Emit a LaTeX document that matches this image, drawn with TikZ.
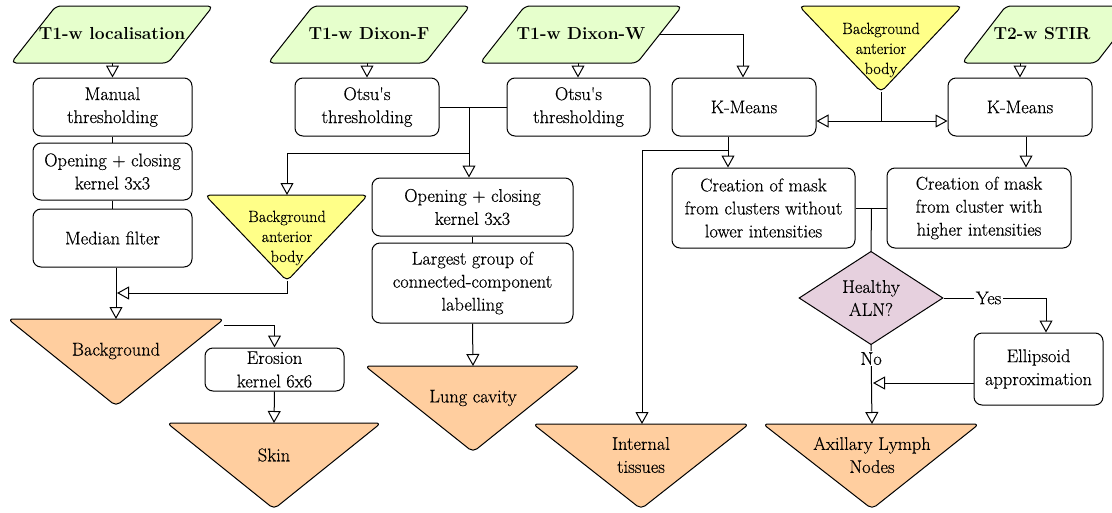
\documentclass[tikz,border=0pt]{standalone}
\usepackage{fontspec}
\setmainfont{Latin Modern Roman}[UprightFeatures={FakeBold=0.4}]
\usetikzlibrary{arrows.meta,shapes.geometric}
\definecolor{inpgreen}{HTML}{E6FFCC}
\definecolor{ylw}{HTML}{FFFF88}
\definecolor{orng}{HTML}{FFCE9F}
\definecolor{purp}{HTML}{E6D0DE}
\begin{document}
\begin{tikzpicture}[x=1pt,y=-1pt,
  every node/.style={font=\fontsize{18.4}{23}\selectfont},
  proc/.style={draw, rounded corners=8, line width=1, fill=white, align=center, inner sep=0},
  lbl/.style={align=center, inner sep=0},
  ttl/.style={align=center, inner sep=0, font=\fontsize{17.4}{23}\selectfont\bfseries},
  smalllbl/.style={align=center, inner sep=0, font=\fontsize{16.2}{20}\selectfont},
  shp/.style={draw, line width=1, rounded corners=5},
  arr/.style={line width=1, -{Triangle[open, width=13, length=12]}},
  ln/.style={line width=1},
  tag/.style={fill=white, inner sep=1.5}]
\useasboundingbox (0,0) rectangle (1112,512);
\begin{scope}
\clip (0,0) rectangle (1112,512);
% input parallelograms
\path[shp, fill=inpgreen] (11,63) -- (56,6) -- (213,6) -- (168,63) -- cycle;
\path[shp, fill=inpgreen] (268,63) -- (313,6) -- (470,6) -- (425,63) -- cycle;
\path[shp, fill=inpgreen] (480,63) -- (525,6) -- (682,6) -- (637,63) -- cycle;
\path[shp, fill=inpgreen] (962,63) -- (1006,6) -- (1140,6) -- (1096,63) -- cycle;
\end{scope}
\node[ttl] (loc) at (112,34) {T1-w localisation};
\node[ttl] (dixF) at (369,34) {T1-w Dixon-F};
\node[ttl] (dixW) at (581,34) {T1-w Dixon-W};
\node[ttl] (stir) at (1042,34) {T2-w STIR};
\coordinate (locB) at (112.5,63);
\coordinate (dixFB) at (367,63);
\coordinate (dixWB) at (578,63);
\coordinate (dixWR) at (659,34);
\coordinate (stirB) at (1020,63);

% yellow triangles
\path[shp, fill=ylw] (205,195) -- (368,195) -- (287,281) -- cycle;
\node[smalllbl] (bgL) at (287,238) {Background\\anterior\\body};
\coordinate (bgLtop) at (287,195);
\coordinate (bgLbot) at (287,281);
\path[shp, fill=ylw] (799,6) -- (962,6) -- (881,92) -- cycle;
\node[smalllbl] (bgR) at (881,50) {Background\\anterior\\body};
\coordinate (bgRbot) at (881,92);

% orange output triangles
\path[shp, fill=orng] (8,319) -- (224,319) -- (116,406) -- cycle;
\node[lbl] (bg) at (116,351) {Background};
\coordinate (bgtop) at (116,319);
\coordinate (bgright) at (224,325);
\path[shp, fill=orng] (167,423) -- (381,423) -- (274,509) -- cycle;
\node[lbl] (skin) at (274,455) {Skin};
\coordinate (skintop) at (274,423);
\path[shp, fill=orng] (365,366) -- (580,366) -- (473,452) -- cycle;
\node[lbl] (lung) at (473,398) {Lung cavity};
\coordinate (lungtop) at (473,366);
\path[shp, fill=orng] (533,424) -- (749,424) -- (641,509) -- cycle;
\node[lbl] (intl) at (641,455) {Internal\\tissues};
\coordinate (intltop) at (641,424);
\path[shp, fill=orng] (763,424) -- (979,424) -- (872,509) -- cycle;
\node[lbl] (axil) at (872,455) {Axillary Lymph\\Nodes};
\coordinate (axiltop) at (872,424);

% process boxes
\node[proc, minimum width=159, minimum height=58] (manual) at (112.5,107) {Manual\\thresholding};
\node[proc, minimum width=159, minimum height=57] (open1) at (112.5,171.5) {Opening + closing\\kernel 3x3};
\node[proc, minimum width=159, minimum height=58] (median) at (112.5,238) {Median filter};
\node[proc, minimum width=144, minimum height=58] (otsuF) at (367,107) {Otsu\textquotesingle s\\thresholding};
\node[proc, minimum width=143, minimum height=58] (otsuW) at (578.5,107) {Otsu\textquotesingle s\\thresholding};
\node[proc, minimum width=201, minimum height=58] (open2) at (472.5,207) {Opening + closing\\kernel 3x3};
\node[proc, minimum width=201, minimum height=80] (largest) at (472.5,283) {Largest group of\\connected-component\\labelling};
\node[proc, minimum width=139, minimum height=43, font=\fontsize{18.4}{23.5}\selectfont] (erosion) at (274.5,369.5) {Erosion\\kernel 6x6};
\node[proc, minimum width=144, minimum height=58] (kmL) at (744,107) {K-Means};
\node[proc, minimum width=144, minimum height=58] (kmR) at (1020,107) {K-Means};
\node[proc, minimum width=183, minimum height=80] (creL) at (763.5,208) {Creation of mask\\from clusters without\\lower intensities};
\node[proc, minimum width=184, minimum height=80] (creR) at (979,208) {Creation of mask\\from cluster with\\higher intensities};
\node[proc, minimum width=129, minimum height=72] (ellip) at (1038.5,369) {Ellipsoid\\approximation};
\node[draw, diamond, line width=1, fill=purp, minimum width=144, minimum height=86, inner sep=0, align=center] (dia) at (871,298) {Healthy\\ALN?};

% helper coordinates
\coordinate (j1) at (469,107);
\coordinate (j2) at (469,153);
\coordinate (j3) at (881,121);
\coordinate (j4) at (642,150);
\coordinate (j5) at (871.5,208);

% connectors
\draw[arr] (locB) -- (manual.north -| locB);
\draw[ln] (manual.south) -- (open1.north);
\draw[ln] (open1.south) -- (median.north);
\draw[arr] (median.south -| bgtop) -- (bgtop);
\draw[arr] (bgLbot) |- (117,293);
\draw[arr] (bgright) -| (erosion.north);
\draw[arr] (erosion.south) -- (skintop);
\draw[arr] (dixFB) -- (otsuF.north -| dixFB);
\draw[arr] (dixWB) -- (otsuW.north -| dixWB);
\draw[ln] (otsuF.east) -- (otsuW.west);
\draw[arr] (j1) -- (open2.north -| j1);
\draw[arr] (j2) -| (bgLtop);
\draw[ln] (open2.south) -- (largest.north);
\draw[arr] (largest.south) -- (lungtop);
\draw[arr] (dixWR) -| (kmL.north -| 743,0);
\draw[ln] (bgRbot) -- (j3);
\draw[arr] (j3) -- (kmL.east |- j3);
\draw[arr] (j3) -- (kmR.west |- j3);
\draw[arr] (stirB) -- (kmR.north -| stirB);
\draw[arr] (kmL.south -| 728,0) -- (creL.north -| 728,0);
\draw[ln] (j4) -- (728,150);
\draw[arr] (j4) -- (intltop -| j4);
\draw[arr] (kmR.south -| 1026,0) -- (creR.north -| 1026,0);
\draw[ln] (creL.east |- j5) -- (creR.west |- j5);
\draw[ln] (j5) -- (dia.north);
\draw[arr] (dia.east) -| node[tag, pos=0.22] (yes) {Yes} (ellip.north -| 1046,0);
\draw[arr] (dia.south) -- node[tag, pos=0.17] (no) {No} (axiltop);
\draw[arr] (ellip.west |- 0,383) -- (873,383);
\end{tikzpicture}
\end{document}
